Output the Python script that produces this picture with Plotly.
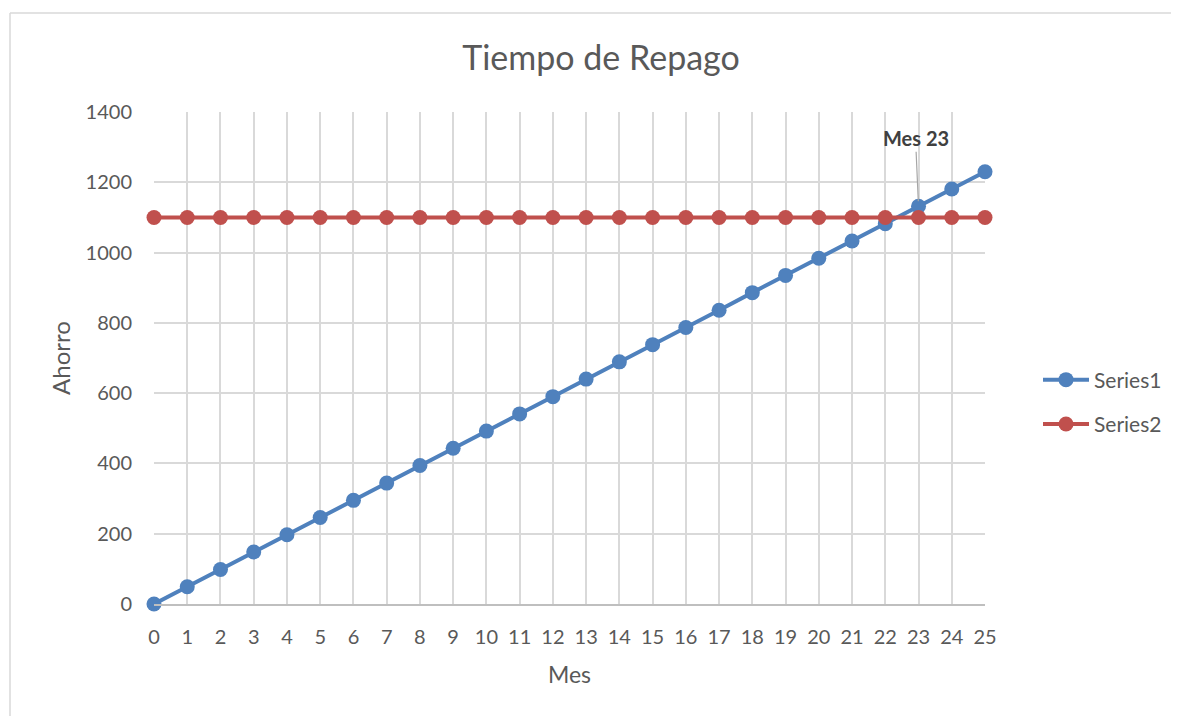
import plotly.graph_objects as go

meses = list(range(26))
series1 = [0, 49, 98, 148, 197, 246, 295, 344, 394, 443, 492, 541, 590, 640, 689,
           738, 787, 836, 886, 935, 984, 1033, 1082, 1132, 1181, 1230]
series2 = [1100] * 26
tick_vals_y = [0, 200, 400, 600, 800, 1000, 1200, 1400]

FONT = "Lato, Open Sans, sans-serif"
GREY = "#595959"

# the page body adds an 8px offset; figure is sized to fit the window
OFF = 8
W, H = 1179 - OFF, 716 - OFF
L, T = 154 - OFF, 112 - OFF
pw, ph = 831, 492
R, B = W - L - pw, H - T - ph

fig = go.Figure()
fig.add_trace(go.Scatter(x=meses, y=series1, mode="lines+markers", name="Series1",
                         legendgroup="a", cliponaxis=False,
                         line=dict(color="#4F81BD", width=4),
                         marker=dict(color="#4F81BD", size=15)))
fig.add_trace(go.Scatter(x=meses, y=series2, mode="lines+markers", name="Series2",
                         legendgroup="b", cliponaxis=False,
                         line=dict(color="#C0504D", width=4),
                         marker=dict(color="#C0504D", size=15)))

fig.update_layout(
    width=W, height=H,
    margin=dict(l=L, r=R, t=T, b=B, autoexpand=False),
    paper_bgcolor="white", plot_bgcolor="white",
    font=dict(family=FONT, color=GREY, size=20),
    title=dict(text="Tiempo de Repago", x=(601 - OFF) / W, xanchor="center",
               y=1 - (58 - OFF) / H, yanchor="middle",
               font=dict(size=34, color=GREY, family=FONT)),
    xaxis=dict(range=[0, 25], tickmode="array", tickvals=meses,
               showgrid=True, gridcolor="#D9D9D9", gridwidth=1.5,
               showline=True, linecolor="#BFBFBF", linewidth=1.5,
               zeroline=False, ticks="", ticklen=0, ticklabelstandoff=14,
               tickfont=dict(size=20, color=GREY),
               title=dict(text="Mes", font=dict(size=23, color=GREY), standoff=20)),
    yaxis=dict(range=[0, 1400], tickmode="array", tickvals=tick_vals_y,
               showgrid=True, gridcolor="#D9D9D9", gridwidth=1.5,
               zeroline=False, showline=False, ticks="", ticklabelstandoff=21,
               tickfont=dict(size=20, color=GREY),
               title=dict(text="Ahorro", font=dict(size=24, color=GREY), standoff=8)),
    legend=dict(x=(1038 - 154) / pw, y=(604 - 402) / ph, xanchor="left", yanchor="middle",
                font=dict(size=21, color=GREY), tracegroupgap=14,
                itemwidth=46, bgcolor="rgba(0,0,0,0)"),
    showlegend=True,
)

fig.add_annotation(x=23, y=series1[23], text="<b>Mes 23</b>", showarrow=True,
                   arrowhead=0, arrowwidth=1.2, arrowcolor="#A6A6A6",
                   ax=-3, ay=-68, standoff=5,
                   font=dict(size=20, color="#404040", family=FONT))

# chart area border (top and left edges visible)
xl = (10 - 154) / pw
yt = (604 - 13) / ph
fig.add_shape(type="line", xref="paper", yref="paper", x0=xl, x1=xl,
              y0=(604 - 716) / ph, y1=yt, line=dict(color="#D9D9D9", width=1.5))
fig.add_shape(type="line", xref="paper", yref="paper", x0=xl, x1=(1179 - 154) / pw,
              y0=yt, y1=yt, line=dict(color="#D9D9D9", width=1.5))

fig.write_html("out.html")
